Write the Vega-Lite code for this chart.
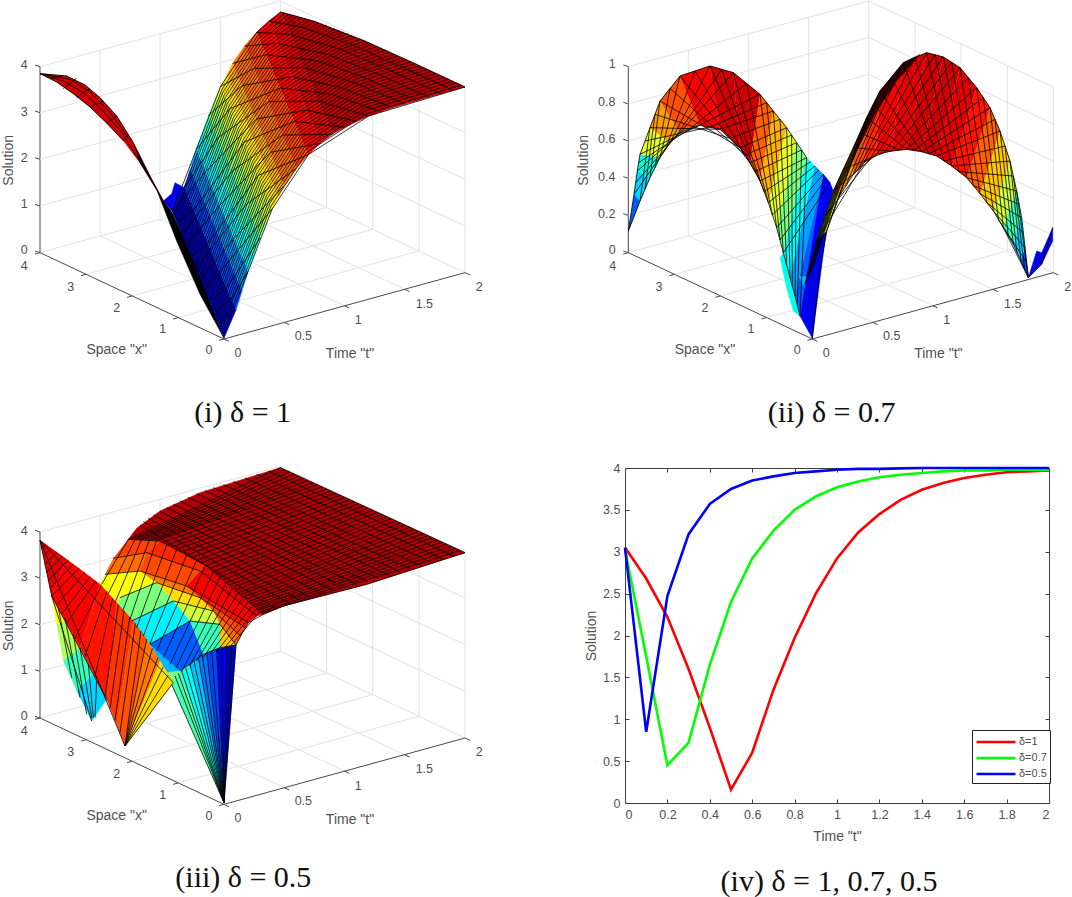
{"$schema":"https://vega.github.io/schema/vega-lite/v6.json","padding":0,"background":"white","config":{"view":{"stroke":null},"text":{"font":"Liberation Sans"}},
"datasets":{
"box":[{"k":"g","h":300,"v":705,"c":300,"d":147},{"k":"g","h":480,"v":655,"c":480,"d":97},{"k":"g","h":661,"v":605,"c":661,"d":47},{"k":"g","h":120,"v":197,"c":841,"d":0},{"k":"g","h":980,"v":620,"c":980,"d":62},{"k":"g","h":1118,"v":685,"c":1118,"d":127},{"k":"g","h":1257,"v":750,"c":1257,"d":192},{"k":"g","h":841,"v":555,"c":841,"d":0},{"k":"g","h":1395,"v":815,"c":1395,"d":258},{"k":"g","h":841,"v":0,"c":1395,"d":258},{"k":"g","h":120,"v":755,"c":841,"d":555},{"k":"g","h":841,"v":555,"c":1395,"d":815},{"k":"g","h":853,"v":964,"c":300,"d":705},{"k":"g","h":1033,"v":914,"c":480,"d":655},{"k":"g","h":1214,"v":865,"c":661,"d":605},{"k":"g","h":258,"v":820,"c":980,"d":620},{"k":"g","h":396,"v":885,"c":1118,"d":685},{"k":"g","h":534,"v":950,"c":1257,"d":750},{"k":"a","h":120,"v":755,"c":672,"d":1014},{"k":"a","h":672,"v":1014,"c":1395,"d":815},{"k":"a","h":120,"v":755,"c":120,"d":197},{"k":"a","h":105,"v":192,"c":120,"d":197},{"k":"a","h":105,"v":750,"c":120,"d":755},{"k":"a","h":258,"v":820,"c":243,"d":824},{"k":"a","h":396,"v":885,"c":381,"d":889},{"k":"a","h":534,"v":950,"c":519,"d":954},{"k":"a","h":672,"v":1014,"c":657,"d":1018},{"k":"a","h":120,"v":755,"c":105,"d":759},{"k":"a","h":672,"v":1014,"c":687,"d":1021},{"k":"a","h":853,"v":964,"c":868,"d":971},{"k":"a","h":1033,"v":914,"c":1048,"d":921},{"k":"a","h":1214,"v":865,"c":1229,"d":872},{"k":"a","h":1395,"v":815,"c":1410,"d":822}],
"h4":[{"k":"g","h":120,"v":615,"c":841,"d":415},{"k":"g","h":120,"v":475,"c":841,"d":275},{"k":"g","h":120,"v":335,"c":841,"d":135},{"k":"g","h":841,"v":415,"c":1395,"d":675},{"k":"g","h":841,"v":275,"c":1395,"d":535},{"k":"g","h":841,"v":135,"c":1395,"d":395},{"k":"a","h":105,"v":610,"c":120,"d":615},{"k":"a","h":105,"v":470,"c":120,"d":475},{"k":"a","h":105,"v":330,"c":120,"d":335}],
"h5":[{"k":"g","h":120,"v":643,"c":841,"d":443},{"k":"g","h":120,"v":532,"c":841,"d":332},{"k":"g","h":120,"v":420,"c":841,"d":220},{"k":"g","h":120,"v":309,"c":841,"d":109},{"k":"g","h":841,"v":443,"c":1395,"d":703},{"k":"g","h":841,"v":332,"c":1395,"d":592},{"k":"g","h":841,"v":220,"c":1395,"d":480},{"k":"g","h":841,"v":109,"c":1395,"d":369},{"k":"a","h":105,"v":638,"c":120,"d":643},{"k":"a","h":105,"v":527,"c":120,"d":532},{"k":"a","h":105,"v":415,"c":120,"d":420},{"k":"a","h":105,"v":304,"c":120,"d":309}],
"lc":[{"s":"4","h":73,"v":795},{"s":"3","h":212,"v":857},{"s":"2","h":350,"v":922},{"s":"1","h":488,"v":985},{"s":"0","h":627,"v":1048},{"s":"0","h":714,"v":1055},{"s":"0.5","h":910,"v":1005},{"s":"1","h":1075,"v":958},{"s":"1.5","h":1273,"v":908},{"s":"2","h":1438,"v":858}],
"l4":[{"s":"4","h":73,"v":193},{"s":"3","h":73,"v":332},{"s":"2","h":73,"v":472},{"s":"1","h":73,"v":610},{"s":"0","h":73,"v":748}],
"l5":[{"s":"1","h":72,"v":190},{"s":"0.8","h":55,"v":303},{"s":"0.6","h":55,"v":415},{"s":"0.4","h":55,"v":527},{"s":"0.2","h":55,"v":638},{"s":"0","h":72,"v":748}],
"tt":[{"s":"Space \"x\"","h":350,"v":1048},{"s":"Time \"t\"","h":1050,"v":1060}],
"p1":[
{"i":1,"u":0.07,"h":672,"v":1012},{"i":1,"u":0.07,"h":708,"v":927},{"i":1,"u":0.07,"h":553,"v":560},{"i":1,"u":0.07,"h":517,"v":633},
{"i":2,"u":0.17,"h":708,"v":927},{"i":2,"u":0.17,"h":726,"v":870},{"i":2,"u":0.17,"h":571,"v":503},{"i":2,"u":0.17,"h":553,"v":560},
{"i":3,"u":0.27,"h":726,"v":870},{"i":3,"u":0.27,"h":744,"v":812},{"i":3,"u":0.27,"h":589,"v":445},{"i":3,"u":0.27,"h":571,"v":503},
{"i":4,"u":0.37,"h":744,"v":812},{"i":4,"u":0.37,"h":762,"v":762},{"i":4,"u":0.37,"h":607,"v":395},{"i":4,"u":0.37,"h":589,"v":445},
{"i":5,"u":0.45,"h":762,"v":762},{"i":5,"u":0.45,"h":780,"v":711},{"i":5,"u":0.45,"h":625,"v":344},{"i":5,"u":0.45,"h":607,"v":395},
{"i":6,"u":0.52,"h":780,"v":711},{"i":6,"u":0.52,"h":798,"v":667},{"i":6,"u":0.52,"h":643,"v":300},{"i":6,"u":0.52,"h":625,"v":344},
{"i":7,"u":0.59,"h":798,"v":667},{"i":7,"u":0.59,"h":817,"v":623},{"i":7,"u":0.59,"h":662,"v":256},{"i":7,"u":0.59,"h":643,"v":300},
{"i":8,"u":0.65,"h":817,"v":623},{"i":8,"u":0.65,"h":835,"v":589},{"i":8,"u":0.65,"h":680,"v":222},{"i":8,"u":0.65,"h":662,"v":256},
{"i":9,"u":0.7,"h":835,"v":589},{"i":9,"u":0.7,"h":853,"v":554},{"i":9,"u":0.7,"h":698,"v":187},{"i":9,"u":0.7,"h":680,"v":222},
{"i":10,"u":0.77,"h":853,"v":554},{"i":10,"u":0.77,"h":889,"v":502},{"i":10,"u":0.77,"h":734,"v":135},{"i":10,"u":0.77,"h":698,"v":187},
{"i":11,"u":0.83,"h":889,"v":502},{"i":11,"u":0.83,"h":925,"v":461},{"i":11,"u":0.83,"h":770,"v":94},{"i":11,"u":0.83,"h":734,"v":135},
{"i":12,"u":0.88,"h":925,"v":461},{"i":12,"u":0.88,"h":961,"v":427},{"i":12,"u":0.88,"h":806,"v":60},{"i":12,"u":0.88,"h":770,"v":94},
{"i":13,"u":0.91,"h":961,"v":427},{"i":13,"u":0.91,"h":997,"v":400},{"i":13,"u":0.91,"h":842,"v":33},{"i":13,"u":0.91,"h":806,"v":60},
{"i":14,"u":0.94,"h":842,"v":33},{"i":14,"u":0.94,"h":943,"v":61},{"i":14,"u":0.94,"h":1094,"v":120},{"i":14,"u":0.94,"h":1245,"v":188},{"i":14,"u":0.94,"h":1395,"v":258},{"i":14,"u":0.94,"h":1323,"v":278},{"i":14,"u":0.94,"h":1250,"v":299},{"i":14,"u":0.94,"h":1178,"v":320},{"i":14,"u":0.94,"h":1106,"v":345},{"i":14,"u":0.94,"h":1034,"v":379},{"i":14,"u":0.94,"h":997,"v":400},
{"i":15,"u":0.1,"h":490,"v":600},{"i":15,"u":0.1,"h":515,"v":578},{"i":15,"u":0.1,"h":525,"v":545},{"i":15,"u":0.1,"h":553,"v":560},{"i":15,"u":0.1,"h":517,"v":633},
{"i":16,"u":0.92,"h":120,"v":218},{"i":16,"u":0.92,"h":200,"v":225},{"i":16,"u":0.92,"h":255,"v":252},{"i":16,"u":0.92,"h":300,"v":290},{"i":16,"u":0.92,"h":350,"v":345},{"i":16,"u":0.92,"h":400,"v":425},{"i":16,"u":0.92,"h":450,"v":525},{"i":16,"u":0.92,"h":490,"v":600},{"i":16,"u":0.92,"h":517,"v":640},{"i":16,"u":0.92,"h":421,"v":487},{"i":16,"u":0.92,"h":371,"v":420},{"i":16,"u":0.92,"h":320,"v":366},{"i":16,"u":0.92,"h":270,"v":318},{"i":16,"u":0.92,"h":220,"v":278},{"i":16,"u":0.92,"h":170,"v":243}],
"b1":[{"i":1,"h":400,"v":425},{"i":1,"h":450,"v":525},{"i":1,"h":490,"v":600},{"i":1,"h":517,"v":636},{"i":1,"h":578,"v":775},{"i":1,"h":672,"v":1012},{"i":1,"h":600,"v":880},{"i":1,"h":530,"v":720},{"i":1,"h":471,"v":569},{"i":1,"h":421,"v":487}],
"m1":[
{"i":1,"h":1395,"v":258},{"i":1,"h":1245,"v":188},{"i":1,"h":1094,"v":120},{"i":1,"h":943,"v":61},{"i":1,"h":842,"v":33},
{"i":2,"h":1359,"v":268},{"i":2,"h":1208,"v":199},{"i":2,"h":1058,"v":132},{"i":2,"h":907,"v":79},{"i":2,"h":806,"v":60},
{"i":3,"h":1323,"v":278},{"i":3,"h":1172,"v":209},{"i":3,"h":1022,"v":145},{"i":3,"h":870,"v":100},{"i":3,"h":770,"v":94},
{"i":4,"h":1287,"v":288},{"i":4,"h":1136,"v":220},{"i":4,"h":986,"v":161},{"i":4,"h":834,"v":127},{"i":4,"h":734,"v":135},
{"i":5,"h":1250,"v":299},{"i":5,"h":1100,"v":232},{"i":5,"h":950,"v":179},{"i":5,"h":798,"v":161},{"i":5,"h":698,"v":187},
{"i":6,"h":1214,"v":309},{"i":6,"h":1064,"v":245},{"i":6,"h":913,"v":200},{"i":6,"h":762,"v":202},{"i":6,"h":662,"v":256},
{"i":7,"h":1178,"v":320},{"i":7,"h":1028,"v":261},{"i":7,"h":877,"v":227},{"i":7,"h":726,"v":254},{"i":7,"h":625,"v":344},
{"i":8,"h":1142,"v":332},{"i":8,"h":992,"v":279},{"i":8,"h":841,"v":261},{"i":8,"h":690,"v":323},{"i":8,"h":589,"v":445},
{"i":9,"h":1106,"v":345},{"i":9,"h":955,"v":300},{"i":9,"h":805,"v":302},{"i":9,"h":653,"v":411},{"i":9,"h":553,"v":560},
{"i":10,"h":1070,"v":361},{"i":10,"h":919,"v":327},{"i":10,"h":769,"v":354},{"i":10,"h":617,"v":512},{"i":10,"h":517,"v":633},
{"i":11,"h":1034,"v":379},{"i":11,"h":883,"v":361},{"i":11,"h":733,"v":423},{"i":11,"h":581,"v":627},{"i":11,"h":531,"v":666},
{"i":12,"h":997,"v":400},{"i":12,"h":847,"v":402},{"i":12,"h":696,"v":511},{"i":12,"h":545,"v":700},
{"i":13,"h":961,"v":427},{"i":13,"h":811,"v":454},{"i":13,"h":660,"v":612},{"i":13,"h":559,"v":733},
{"i":14,"h":925,"v":461},{"i":14,"h":775,"v":523},{"i":14,"h":624,"v":727},{"i":14,"h":573,"v":766},
{"i":15,"h":889,"v":502},{"i":15,"h":738,"v":611},{"i":15,"h":588,"v":800},
{"i":16,"h":853,"v":554},{"i":16,"h":702,"v":712},{"i":16,"h":602,"v":833},
{"i":17,"h":817,"v":623},{"i":17,"h":716,"v":745},{"i":17,"h":616,"v":866},
{"i":18,"h":780,"v":711},{"i":18,"h":680,"v":860},{"i":18,"h":630,"v":900},
{"i":19,"h":744,"v":812},{"i":19,"h":694,"v":894},{"i":19,"h":644,"v":933},
{"i":20,"h":708,"v":927},{"i":20,"h":658,"v":967},
{"i":21,"h":672,"v":1000},{"i":21,"h":744,"v":812},{"i":21,"h":817,"v":623},{"i":21,"h":925,"v":461},{"i":21,"h":1106,"v":345},{"i":21,"h":1395,"v":258},
{"i":22,"h":665,"v":983},{"i":22,"h":737,"v":795},{"i":22,"h":810,"v":606},{"i":22,"h":918,"v":444},{"i":22,"h":1099,"v":328},{"i":22,"h":1370,"v":246},
{"i":23,"h":658,"v":967},{"i":23,"h":730,"v":779},{"i":23,"h":803,"v":590},{"i":23,"h":911,"v":428},{"i":23,"h":1092,"v":312},{"i":23,"h":1345,"v":235},
{"i":24,"h":651,"v":950},{"i":24,"h":723,"v":762},{"i":24,"h":796,"v":573},{"i":24,"h":904,"v":411},{"i":24,"h":1085,"v":295},{"i":24,"h":1320,"v":223},
{"i":25,"h":644,"v":933},{"i":25,"h":716,"v":745},{"i":25,"h":789,"v":556},{"i":25,"h":897,"v":394},{"i":25,"h":1078,"v":278},{"i":25,"h":1295,"v":211},
{"i":26,"h":637,"v":917},{"i":26,"h":709,"v":729},{"i":26,"h":782,"v":540},{"i":26,"h":890,"v":378},{"i":26,"h":1071,"v":262},{"i":26,"h":1270,"v":200},
{"i":27,"h":630,"v":900},{"i":27,"h":702,"v":712},{"i":27,"h":775,"v":523},{"i":27,"h":883,"v":361},{"i":27,"h":1064,"v":245},{"i":27,"h":1245,"v":188},
{"i":28,"h":623,"v":883},{"i":28,"h":695,"v":695},{"i":28,"h":768,"v":506},{"i":28,"h":876,"v":344},{"i":28,"h":1057,"v":228},{"i":28,"h":1219,"v":177},
{"i":29,"h":616,"v":866},{"i":29,"h":688,"v":678},{"i":29,"h":761,"v":489},{"i":29,"h":869,"v":327},{"i":29,"h":1050,"v":211},{"i":29,"h":1194,"v":165},
{"i":30,"h":609,"v":850},{"i":30,"h":681,"v":662},{"i":30,"h":754,"v":473},{"i":30,"h":862,"v":311},{"i":30,"h":1043,"v":195},{"i":30,"h":1169,"v":154},
{"i":31,"h":602,"v":833},{"i":31,"h":674,"v":645},{"i":31,"h":747,"v":456},{"i":31,"h":855,"v":294},{"i":31,"h":1036,"v":178},{"i":31,"h":1144,"v":142},
{"i":32,"h":595,"v":816},{"i":32,"h":667,"v":628},{"i":32,"h":740,"v":439},{"i":32,"h":848,"v":277},{"i":32,"h":1029,"v":161},{"i":32,"h":1119,"v":130},
{"i":33,"h":588,"v":800},{"i":33,"h":660,"v":612},{"i":33,"h":733,"v":423},{"i":33,"h":841,"v":261},{"i":33,"h":1022,"v":145},{"i":33,"h":1094,"v":120},
{"i":34,"h":580,"v":783},{"i":34,"h":652,"v":595},{"i":34,"h":725,"v":406},{"i":34,"h":833,"v":244},{"i":34,"h":1014,"v":128},{"i":34,"h":1068,"v":109},
{"i":35,"h":573,"v":766},{"i":35,"h":645,"v":578},{"i":35,"h":718,"v":389},{"i":35,"h":826,"v":227},{"i":35,"h":1007,"v":111},{"i":35,"h":1043,"v":98},
{"i":36,"h":566,"v":750},{"i":36,"h":638,"v":562},{"i":36,"h":711,"v":373},{"i":36,"h":819,"v":211},{"i":36,"h":1000,"v":95},{"i":36,"h":1018,"v":89},
{"i":37,"h":559,"v":733},{"i":37,"h":631,"v":545},{"i":37,"h":704,"v":356},{"i":37,"h":812,"v":194},{"i":37,"h":993,"v":78},
{"i":38,"h":552,"v":716},{"i":38,"h":624,"v":528},{"i":38,"h":697,"v":339},{"i":38,"h":805,"v":177},{"i":38,"h":968,"v":69},
{"i":39,"h":545,"v":700},{"i":39,"h":617,"v":512},{"i":39,"h":690,"v":323},{"i":39,"h":798,"v":161},{"i":39,"h":943,"v":61},
{"i":40,"h":538,"v":683},{"i":40,"h":610,"v":495},{"i":40,"h":683,"v":306},{"i":40,"h":791,"v":144},{"i":40,"h":918,"v":53},
{"i":41,"h":531,"v":666},{"i":41,"h":603,"v":478},{"i":41,"h":676,"v":289},{"i":41,"h":784,"v":127},{"i":41,"h":893,"v":45},
{"i":42,"h":524,"v":650},{"i":42,"h":596,"v":462},{"i":42,"h":669,"v":273},{"i":42,"h":777,"v":111},{"i":42,"h":868,"v":39},
{"i":43,"h":517,"v":633},{"i":43,"h":589,"v":445},{"i":43,"h":662,"v":256},{"i":43,"h":770,"v":94},{"i":43,"h":842,"v":33},
{"i":44,"h":120,"v":218},{"i":44,"h":190,"v":240},{"i":44,"h":250,"v":275},{"i":44,"h":310,"v":330},{"i":44,"h":370,"v":400},{"i":44,"h":430,"v":500},
{"i":45,"h":120,"v":218},{"i":45,"h":210,"v":235},{"i":45,"h":270,"v":272},{"i":45,"h":330,"v":335},{"i":45,"h":385,"v":410},
{"i":46,"h":150,"v":232},{"i":46,"h":190,"v":223},{"i":47,"h":190,"v":263},{"i":47,"h":230,"v":232},{"i":48,"h":230,"v":290},{"i":48,"h":270,"v":262},{"i":49,"h":270,"v":318},{"i":49,"h":310,"v":300},{"i":50,"h":320,"v":366},{"i":50,"h":350,"v":345},{"i":51,"h":371,"v":420},{"i":51,"h":385,"v":400},
{"i":52,"h":120,"v":218},{"i":52,"h":200,"v":225},{"i":52,"h":255,"v":252},{"i":52,"h":300,"v":290},{"i":52,"h":350,"v":345},{"i":52,"h":400,"v":425},
{"i":53,"h":120,"v":218},{"i":53,"h":170,"v":243},{"i":53,"h":220,"v":278},{"i":53,"h":270,"v":318},{"i":53,"h":320,"v":366},{"i":53,"h":371,"v":420},
{"i":54,"h":669,"v":992},{"i":54,"h":741,"v":804},{"i":54,"h":813,"v":615},{"i":54,"h":922,"v":453},{"i":54,"h":1102,"v":337},{"i":54,"h":1383,"v":252},
{"i":55,"h":662,"v":975},{"i":55,"h":734,"v":787},{"i":55,"h":807,"v":598},{"i":55,"h":915,"v":436},{"i":55,"h":1096,"v":320},{"i":55,"h":1358,"v":241},
{"i":56,"h":655,"v":959},{"i":56,"h":727,"v":771},{"i":56,"h":800,"v":582},{"i":56,"h":908,"v":420},{"i":56,"h":1089,"v":304},{"i":56,"h":1333,"v":229},
{"i":57,"h":648,"v":942},{"i":57,"h":720,"v":754},{"i":57,"h":793,"v":565},{"i":57,"h":901,"v":403},{"i":57,"h":1082,"v":287},{"i":57,"h":1308,"v":217},
{"i":58,"h":641,"v":925},{"i":58,"h":713,"v":737},{"i":58,"h":786,"v":548},{"i":58,"h":894,"v":386},{"i":58,"h":1075,"v":270},{"i":58,"h":1283,"v":205},
{"i":59,"h":634,"v":909},{"i":59,"h":706,"v":721},{"i":59,"h":779,"v":532},{"i":59,"h":887,"v":370},{"i":59,"h":1068,"v":254},{"i":59,"h":1258,"v":194},
{"i":60,"h":627,"v":892},{"i":60,"h":699,"v":704},{"i":60,"h":772,"v":515},{"i":60,"h":880,"v":353},{"i":60,"h":1061,"v":237},{"i":60,"h":1233,"v":182},
{"i":61,"h":620,"v":875},{"i":61,"h":692,"v":687},{"i":61,"h":765,"v":498},{"i":61,"h":873,"v":336},{"i":61,"h":1054,"v":220},{"i":61,"h":1207,"v":171},
{"i":62,"h":613,"v":858},{"i":62,"h":685,"v":670},{"i":62,"h":758,"v":481},{"i":62,"h":866,"v":319},{"i":62,"h":1047,"v":203},{"i":62,"h":1182,"v":160},
{"i":63,"h":606,"v":842},{"i":63,"h":678,"v":654},{"i":63,"h":751,"v":465},{"i":63,"h":859,"v":303},{"i":63,"h":1040,"v":187},{"i":63,"h":1157,"v":148},
{"i":64,"h":599,"v":825},{"i":64,"h":671,"v":637},{"i":64,"h":744,"v":448},{"i":64,"h":852,"v":286},{"i":64,"h":1033,"v":170},{"i":64,"h":1132,"v":136},
{"i":65,"h":592,"v":808},{"i":65,"h":664,"v":620},{"i":65,"h":737,"v":431},{"i":65,"h":845,"v":269},{"i":65,"h":1026,"v":153},{"i":65,"h":1107,"v":125},
{"i":66,"h":585,"v":792},{"i":66,"h":657,"v":604},{"i":66,"h":730,"v":415},{"i":66,"h":838,"v":253},{"i":66,"h":1018,"v":137},{"i":66,"h":1081,"v":115},
{"i":67,"h":577,"v":775},{"i":67,"h":649,"v":587},{"i":67,"h":722,"v":398},{"i":67,"h":830,"v":236},{"i":67,"h":1011,"v":120},{"i":67,"h":1056,"v":104},
{"i":68,"h":570,"v":758},{"i":68,"h":642,"v":570},{"i":68,"h":715,"v":381},{"i":68,"h":823,"v":219},{"i":68,"h":1004,"v":103},{"i":68,"h":1031,"v":93},
{"i":69,"h":563,"v":742},{"i":69,"h":635,"v":554},{"i":69,"h":708,"v":365},{"i":69,"h":816,"v":203},{"i":69,"h":1005,"v":83},
{"i":70,"h":556,"v":725},{"i":70,"h":628,"v":537},{"i":70,"h":701,"v":348},{"i":70,"h":809,"v":186},{"i":70,"h":980,"v":73},
{"i":71,"h":549,"v":708},{"i":71,"h":621,"v":520},{"i":71,"h":694,"v":331},{"i":71,"h":802,"v":169},{"i":71,"h":955,"v":65},
{"i":72,"h":542,"v":692},{"i":72,"h":614,"v":504},{"i":72,"h":687,"v":315},{"i":72,"h":795,"v":153},{"i":72,"h":930,"v":57},
{"i":73,"h":535,"v":675},{"i":73,"h":607,"v":487},{"i":73,"h":680,"v":298},{"i":73,"h":788,"v":136},{"i":73,"h":905,"v":49},
{"i":74,"h":528,"v":658},{"i":74,"h":600,"v":470},{"i":74,"h":673,"v":281},{"i":74,"h":781,"v":119},{"i":74,"h":880,"v":42},
{"i":75,"h":521,"v":642},{"i":75,"h":593,"v":454},{"i":75,"h":666,"v":265},{"i":75,"h":774,"v":103},{"i":75,"h":855,"v":36}],
"p2":[
{"i":1,"u":0.2,"h":205,"v":690},{"i":1,"u":0.2,"h":240,"v":600},{"i":1,"u":0.2,"h":222,"v":580},
{"i":2,"u":0.33,"h":240,"v":600},{"i":2,"u":0.33,"h":270,"v":530},{"i":2,"u":0.33,"h":232,"v":510},{"i":2,"u":0.33,"h":222,"v":580},
{"i":3,"u":0.42,"h":270,"v":530},{"i":3,"u":0.42,"h":300,"v":470},{"i":3,"u":0.42,"h":240,"v":460},{"i":3,"u":0.42,"h":232,"v":510},
{"i":4,"u":0.6,"h":300,"v":470},{"i":4,"u":0.6,"h":330,"v":425},{"i":4,"u":0.6,"h":270,"v":380},{"i":4,"u":0.6,"h":240,"v":460},
{"i":5,"u":0.72,"h":330,"v":425},{"i":5,"u":0.72,"h":360,"v":395},{"i":5,"u":0.72,"h":300,"v":300},{"i":5,"u":0.72,"h":270,"v":380},
{"i":6,"u":0.82,"h":360,"v":395},{"i":6,"u":0.82,"h":420,"v":372},{"i":6,"u":0.82,"h":360,"v":225},{"i":6,"u":0.82,"h":300,"v":300},
{"i":7,"u":0.88,"h":420,"v":372},{"i":7,"u":0.88,"h":480,"v":385},{"i":7,"u":0.88,"h":450,"v":195},{"i":7,"u":0.88,"h":360,"v":225},
{"i":8,"u":0.92,"h":480,"v":385},{"i":8,"u":0.92,"h":540,"v":440},{"i":8,"u":0.92,"h":520,"v":215},{"i":8,"u":0.92,"h":450,"v":195},
{"i":9,"u":0.92,"h":540,"v":440},{"i":9,"u":0.92,"h":570,"v":485},{"i":9,"u":0.92,"h":600,"v":280},{"i":9,"u":0.92,"h":520,"v":215},
{"i":10,"u":0.8,"h":570,"v":485},{"i":10,"u":0.8,"h":600,"v":540},{"i":10,"u":0.8,"h":640,"v":330},{"i":10,"u":0.8,"h":600,"v":280},
{"i":11,"u":0.7,"h":600,"v":540},{"i":11,"u":0.7,"h":625,"v":605},{"i":11,"u":0.7,"h":680,"v":380},{"i":11,"u":0.7,"h":640,"v":330},
{"i":12,"u":0.6,"h":625,"v":605},{"i":12,"u":0.6,"h":650,"v":680},{"i":12,"u":0.6,"h":710,"v":425},{"i":12,"u":0.6,"h":680,"v":380},
{"i":13,"u":0.5,"h":650,"v":680},{"i":13,"u":0.5,"h":670,"v":755},{"i":13,"u":0.5,"h":740,"v":470},{"i":13,"u":0.5,"h":710,"v":425},
{"i":14,"u":0.38,"h":670,"v":755},{"i":14,"u":0.38,"h":690,"v":830},{"i":14,"u":0.38,"h":765,"v":495},{"i":14,"u":0.38,"h":740,"v":470},
{"i":15,"u":0.28,"h":690,"v":830},{"i":15,"u":0.28,"h":705,"v":885},{"i":15,"u":0.28,"h":790,"v":520},{"i":15,"u":0.28,"h":765,"v":495},
{"i":16,"u":0.2,"h":705,"v":885},{"i":16,"u":0.2,"h":720,"v":945},{"i":16,"u":0.2,"h":810,"v":545},{"i":16,"u":0.2,"h":790,"v":520},
{"i":17,"u":0.4,"h":670,"v":755},{"i":17,"u":0.4,"h":690,"v":830},{"i":17,"u":0.4,"h":720,"v":945},{"i":17,"u":0.4,"h":700,"v":930},{"i":17,"u":0.4,"h":680,"v":860},{"i":17,"u":0.4,"h":660,"v":770},
{"i":18,"u":0.12,"h":790,"v":520},{"i":18,"u":0.12,"h":810,"v":545},{"i":18,"u":0.12,"h":820,"v":570},{"i":18,"u":0.12,"h":800,"v":680},{"i":18,"u":0.12,"h":757,"v":1012},{"i":18,"u":0.12,"h":720,"v":945},
{"i":19,"u":0.3,"h":715,"v":825},{"i":19,"u":0.3,"h":770,"v":830},{"i":19,"u":0.3,"h":745,"v":880},
{"i":20,"u":0.1,"h":757,"v":1012},{"i":20,"u":0.1,"h":735,"v":850},{"i":20,"u":0.1,"h":770,"v":720},{"i":20,"u":0.1,"h":800,"v":690},{"i":20,"u":0.1,"h":780,"v":800},
{"i":21,"u":0.6,"h":800,"v":690},{"i":21,"u":0.6,"h":835,"v":590},{"i":21,"u":0.6,"h":820,"v":570},{"i":21,"u":0.6,"h":770,"v":720},
{"i":22,"u":0.72,"h":835,"v":590},{"i":22,"u":0.72,"h":880,"v":520},{"i":22,"u":0.72,"h":880,"v":440},{"i":22,"u":0.72,"h":820,"v":570},
{"i":23,"u":0.82,"h":880,"v":520},{"i":23,"u":0.82,"h":912,"v":485},{"i":23,"u":0.82,"h":920,"v":350},{"i":23,"u":0.82,"h":880,"v":440},
{"i":24,"u":0.86,"h":912,"v":485},{"i":24,"u":0.86,"h":950,"v":460},{"i":24,"u":0.86,"h":960,"v":270},{"i":24,"u":0.86,"h":920,"v":350},
{"i":25,"u":0.88,"h":950,"v":460},{"i":25,"u":0.88,"h":995,"v":450},{"i":25,"u":0.88,"h":1030,"v":185},{"i":25,"u":0.88,"h":960,"v":270},
{"i":26,"u":0.9,"h":995,"v":450},{"i":26,"u":0.9,"h":1040,"v":445},{"i":26,"u":0.9,"h":1100,"v":155},{"i":26,"u":0.9,"h":1030,"v":185},
{"i":27,"u":0.92,"h":1040,"v":445},{"i":27,"u":0.92,"h":1085,"v":452},{"i":27,"u":0.92,"h":1150,"v":168},{"i":27,"u":0.92,"h":1100,"v":155},
{"i":28,"u":0.92,"h":1085,"v":452},{"i":28,"u":0.92,"h":1130,"v":465},{"i":28,"u":0.92,"h":1200,"v":200},{"i":28,"u":0.92,"h":1150,"v":168},
{"i":29,"u":0.9,"h":1130,"v":465},{"i":29,"u":0.9,"h":1175,"v":495},{"i":29,"u":0.9,"h":1250,"v":260},{"i":29,"u":0.9,"h":1200,"v":200},
{"i":30,"u":0.87,"h":1175,"v":495},{"i":30,"u":0.87,"h":1220,"v":530},{"i":30,"u":0.87,"h":1290,"v":320},{"i":30,"u":0.87,"h":1250,"v":260},
{"i":31,"u":0.8,"h":1220,"v":530},{"i":31,"u":0.8,"h":1260,"v":578},{"i":31,"u":0.8,"h":1320,"v":390},{"i":31,"u":0.8,"h":1290,"v":320},
{"i":32,"u":0.68,"h":1260,"v":578},{"i":32,"u":0.68,"h":1300,"v":630},{"i":32,"u":0.68,"h":1350,"v":480},{"i":32,"u":0.68,"h":1320,"v":390},
{"i":33,"u":0.58,"h":1300,"v":630},{"i":33,"u":0.58,"h":1330,"v":680},{"i":33,"u":0.58,"h":1370,"v":570},{"i":33,"u":0.58,"h":1350,"v":480},
{"i":34,"u":0.45,"h":1330,"v":680},{"i":34,"u":0.45,"h":1360,"v":730},{"i":34,"u":0.45,"h":1385,"v":650},{"i":34,"u":0.45,"h":1370,"v":570},
{"i":35,"u":0.33,"h":1360,"v":730},{"i":35,"u":0.33,"h":1383,"v":780},{"i":35,"u":0.33,"h":1395,"v":740},{"i":35,"u":0.33,"h":1385,"v":650},
{"i":36,"u":0.18,"h":1383,"v":780},{"i":36,"u":0.18,"h":1405,"v":830},{"i":36,"u":0.18,"h":1395,"v":740},
{"i":37,"u":0.1,"h":1405,"v":830},{"i":37,"u":0.1,"h":1430,"v":750},{"i":37,"u":0.1,"h":1445,"v":755},{"i":37,"u":0.1,"h":1478,"v":680},{"i":37,"u":0.1,"h":1478,"v":720},{"i":37,"u":0.1,"h":1445,"v":790}],
"b2":[{"i":1,"h":735,"v":850},{"i":1,"h":770,"v":720},{"i":1,"h":820,"v":570},{"i":1,"h":880,"v":440},{"i":1,"h":920,"v":350},{"i":1,"h":960,"v":270},{"i":1,"h":1030,"v":185},{"i":1,"h":1080,"v":160},{"i":1,"h":1010,"v":240},{"i":1,"h":950,"v":330},{"i":1,"h":890,"v":450},{"i":1,"h":840,"v":560},{"i":1,"h":795,"v":690},{"i":1,"h":760,"v":800}],
"m2":[
{"i":1,"h":205,"v":690},{"i":1,"h":222,"v":580},{"i":1,"h":232,"v":510},{"i":1,"h":240,"v":460},{"i":1,"h":270,"v":380},{"i":1,"h":300,"v":300},{"i":1,"h":360,"v":225},{"i":1,"h":450,"v":195},{"i":1,"h":520,"v":215},{"i":1,"h":600,"v":280},{"i":1,"h":640,"v":330},{"i":1,"h":680,"v":380},{"i":1,"h":710,"v":425},{"i":1,"h":740,"v":470},
{"i":2,"h":205,"v":690},{"i":2,"h":240,"v":600},{"i":2,"h":270,"v":530},{"i":2,"h":300,"v":470},{"i":2,"h":330,"v":425},{"i":2,"h":360,"v":395},{"i":2,"h":420,"v":372},{"i":2,"h":480,"v":385},{"i":2,"h":540,"v":440},{"i":2,"h":570,"v":485},{"i":2,"h":600,"v":540},{"i":2,"h":625,"v":605},{"i":2,"h":650,"v":680},{"i":2,"h":670,"v":755},{"i":2,"h":690,"v":830},{"i":2,"h":705,"v":885},{"i":2,"h":720,"v":945},
{"i":3,"h":757,"v":1012},{"i":3,"h":780,"v":800},{"i":3,"h":800,"v":690},{"i":3,"h":835,"v":590},{"i":3,"h":880,"v":520},{"i":3,"h":912,"v":485},{"i":3,"h":950,"v":460},{"i":3,"h":995,"v":450},{"i":3,"h":1040,"v":445},{"i":3,"h":1085,"v":452},{"i":3,"h":1130,"v":465},{"i":3,"h":1175,"v":495},{"i":3,"h":1220,"v":530},{"i":3,"h":1260,"v":578},{"i":3,"h":1300,"v":630},{"i":3,"h":1330,"v":680},{"i":3,"h":1360,"v":730},{"i":3,"h":1383,"v":780},{"i":3,"h":1405,"v":830},
{"i":4,"h":735,"v":850},{"i":4,"h":770,"v":720},{"i":4,"h":820,"v":570},{"i":4,"h":880,"v":440},{"i":4,"h":920,"v":350},{"i":4,"h":960,"v":270},{"i":4,"h":1030,"v":185},{"i":4,"h":1100,"v":155},{"i":4,"h":1150,"v":168},{"i":4,"h":1200,"v":200},{"i":4,"h":1250,"v":260},{"i":4,"h":1290,"v":320},{"i":4,"h":1320,"v":390},{"i":4,"h":1350,"v":480},{"i":4,"h":1370,"v":570},{"i":4,"h":1385,"v":650},{"i":4,"h":1395,"v":740},{"i":4,"h":1405,"v":830},
{"i":5,"h":1405,"v":830},{"i":5,"h":1445,"v":790},{"i":5,"h":1478,"v":680}],
"r2":[{"h":800,"v":690,"c":920,"d":350},{"h":835,"v":590,"c":960,"d":270},{"h":880,"v":520,"c":1030,"d":185},{"h":912,"v":485,"c":1100,"d":155},{"h":950,"v":460,"c":1150,"d":168},{"h":995,"v":450,"c":1200,"d":200},{"h":1040,"v":445,"c":1250,"d":260},{"h":1085,"v":452,"c":1290,"d":320},{"h":1130,"v":465,"c":1320,"d":390},{"h":1175,"v":495,"c":1350,"d":480},{"h":1220,"v":530,"c":1370,"d":570},{"h":1260,"v":578,"c":1385,"d":650},{"h":1300,"v":630,"c":1395,"d":740},{"h":1330,"v":680,"c":1405,"d":830},{"h":770,"v":720,"c":912,"d":485},{"h":820,"v":570,"c":950,"d":460},{"h":880,"v":440,"c":995,"d":450},{"h":920,"v":350,"c":1040,"d":445},{"h":960,"v":270,"c":1085,"d":452},{"h":1030,"v":185,"c":1130,"d":465},{"h":1100,"v":155,"c":1175,"d":495},{"h":1150,"v":168,"c":1220,"d":530},{"h":1200,"v":200,"c":1260,"d":578},{"h":1250,"v":260,"c":1300,"d":630},{"h":1290,"v":320,"c":1330,"d":680},{"h":1320,"v":390,"c":1360,"d":730},{"h":1350,"v":480,"c":1383,"d":780},{"h":1370,"v":570,"c":1405,"d":830},
{"h":817,"v":640,"c":940,"d":310},{"h":857,"v":555,"c":995,"d":228},{"h":896,"v":502,"c":1065,"d":170},{"h":931,"v":472,"c":1125,"d":161},{"h":972,"v":455,"c":1175,"d":184},{"h":1017,"v":447,"c":1225,"d":230},{"h":1062,"v":448,"c":1270,"d":290},{"h":1107,"v":458,"c":1305,"d":355},{"h":1152,"v":480,"c":1335,"d":435},{"h":1197,"v":512,"c":1360,"d":525},{"h":1240,"v":554,"c":1377,"d":610},{"h":1280,"v":604,"c":1390,"d":695},{"h":1315,"v":655,"c":1400,"d":785},
{"h":795,"v":645,"c":931,"d":472},{"h":850,"v":505,"c":972,"d":455},{"h":900,"v":395,"c":1017,"d":447},{"h":940,"v":310,"c":1062,"d":448},{"h":995,"v":228,"c":1107,"d":458},{"h":1065,"v":170,"c":1152,"d":480},{"h":1125,"v":161,"c":1197,"d":512},{"h":1175,"v":184,"c":1240,"d":554},{"h":1225,"v":230,"c":1280,"d":604},{"h":1270,"v":290,"c":1315,"d":655},{"h":1305,"v":355,"c":1345,"d":705},{"h":1335,"v":435,"c":1371,"d":755},{"h":1360,"v":525,"c":1394,"d":805}],
"r2a":[{"h":222,"v":580,"c":330,"d":425},{"h":232,"v":510,"c":360,"d":395},{"h":240,"v":460,"c":420,"d":372},{"h":270,"v":380,"c":480,"d":385},{"h":300,"v":300,"c":540,"d":440},{"h":360,"v":225,"c":570,"d":485},{"h":450,"v":195,"c":600,"d":540},{"h":520,"v":215,"c":625,"d":605},{"h":600,"v":280,"c":650,"d":680},{"h":640,"v":330,"c":670,"d":755},{"h":680,"v":380,"c":690,"d":830},{"h":710,"v":425,"c":705,"d":885},{"h":740,"v":470,"c":720,"d":945},{"h":240,"v":600,"c":270,"d":380},{"h":270,"v":530,"c":300,"d":300},{"h":300,"v":470,"c":360,"d":225},{"h":330,"v":425,"c":450,"d":195},{"h":360,"v":395,"c":520,"d":215},{"h":420,"v":372,"c":600,"d":280},{"h":480,"v":385,"c":640,"d":330},{"h":540,"v":440,"c":680,"d":380},{"h":570,"v":485,"c":710,"d":425},{"h":600,"v":540,"c":740,"d":470},{"h":625,"v":605,"c":765,"d":495},{"h":650,"v":680,"c":790,"d":520},{"h":670,"v":755,"c":810,"d":545},
{"h":227,"v":545,"c":345,"d":410},{"h":236,"v":485,"c":390,"d":383},{"h":255,"v":420,"c":450,"d":378},{"h":285,"v":340,"c":510,"d":412},{"h":330,"v":262,"c":555,"d":462},{"h":405,"v":210,"c":585,"d":512},{"h":485,"v":205,"c":612,"d":572},{"h":560,"v":247,"c":637,"d":642},{"h":620,"v":305,"c":660,"d":717},{"h":660,"v":355,"c":680,"d":792},{"h":695,"v":402,"c":697,"d":857},{"h":725,"v":447,"c":712,"d":915},
{"h":255,"v":565,"c":285,"d":340},{"h":285,"v":500,"c":330,"d":262},{"h":315,"v":447,"c":405,"d":210},{"h":345,"v":410,"c":485,"d":205},{"h":390,"v":383,"c":560,"d":247},{"h":450,"v":378,"c":620,"d":305},{"h":510,"v":412,"c":660,"d":355},{"h":555,"v":462,"c":695,"d":402},{"h":585,"v":512,"c":725,"d":447},{"h":612,"v":572,"c":752,"d":482},{"h":637,"v":642,"c":777,"d":507},{"h":660,"v":717,"c":800,"d":532}],
"p3":[
{"i":0,"u":0.3,"h":440,"v":565},{"i":0,"u":0.3,"h":610,"v":610},{"i":0,"u":0.3,"h":570,"v":650},{"i":0,"u":0.3,"h":520,"v":700},
{"i":1,"u":0.95,"h":385,"v":265},{"i":1,"u":0.95,"h":410,"v":232},{"i":1,"u":0.95,"h":480,"v":180},{"i":1,"u":0.95,"h":600,"v":125},{"i":1,"u":0.95,"h":841,"v":50},{"i":1,"u":0.95,"h":1395,"v":305},{"i":1,"u":0.95,"h":1100,"v":400},{"i":1,"u":0.95,"h":850,"v":465},{"i":1,"u":0.95,"h":790,"v":490},{"i":1,"u":0.95,"h":620,"v":345},{"i":1,"u":0.95,"h":480,"v":270},
{"i":2,"u":0.84,"h":385,"v":265},{"i":2,"u":0.84,"h":480,"v":270},{"i":2,"u":0.84,"h":440,"v":305},{"i":2,"u":0.84,"h":340,"v":322},
{"i":3,"u":0.86,"h":480,"v":270},{"i":3,"u":0.86,"h":620,"v":345},{"i":3,"u":0.86,"h":600,"v":360},{"i":3,"u":0.86,"h":440,"v":305},
{"i":4,"u":0.9,"h":620,"v":345},{"i":4,"u":0.9,"h":790,"v":490},{"i":4,"u":0.9,"h":770,"v":495},{"i":4,"u":0.9,"h":600,"v":360},
{"i":5,"u":0.78,"h":340,"v":322},{"i":5,"u":0.78,"h":440,"v":305},{"i":5,"u":0.78,"h":420,"v":360},{"i":5,"u":0.78,"h":315,"v":370},
{"i":6,"u":0.83,"h":440,"v":305},{"i":6,"u":0.83,"h":600,"v":360},{"i":6,"u":0.83,"h":560,"v":405},{"i":6,"u":0.83,"h":420,"v":360},
{"i":7,"u":0.88,"h":600,"v":360},{"i":7,"u":0.88,"h":770,"v":495},{"i":7,"u":0.88,"h":745,"v":515},{"i":7,"u":0.88,"h":560,"v":405},
{"i":8,"u":0.62,"h":315,"v":370},{"i":8,"u":0.62,"h":420,"v":360},{"i":8,"u":0.62,"h":470,"v":395},{"i":8,"u":0.62,"h":360,"v":440},{"i":8,"u":0.62,"h":350,"v":460},{"i":8,"u":0.62,"h":300,"v":400},
{"i":9,"u":0.76,"h":420,"v":360},{"i":9,"u":0.76,"h":560,"v":405},{"i":9,"u":0.76,"h":600,"v":440},{"i":9,"u":0.76,"h":470,"v":395},
{"i":10,"u":0.87,"h":560,"v":405},{"i":10,"u":0.87,"h":745,"v":515},{"i":10,"u":0.87,"h":735,"v":530},{"i":10,"u":0.87,"h":600,"v":440},
{"i":11,"u":0.5,"h":360,"v":440},{"i":11,"u":0.5,"h":470,"v":395},{"i":11,"u":0.5,"h":520,"v":450},{"i":11,"u":0.5,"h":395,"v":510},{"i":11,"u":0.5,"h":350,"v":455},
{"i":12,"u":0.66,"h":470,"v":395},{"i":12,"u":0.66,"h":600,"v":440},{"i":12,"u":0.66,"h":640,"v":480},{"i":12,"u":0.66,"h":520,"v":450},
{"i":13,"u":0.83,"h":600,"v":440},{"i":13,"u":0.83,"h":735,"v":530},{"i":13,"u":0.83,"h":722,"v":555},{"i":13,"u":0.83,"h":640,"v":480},
{"i":14,"u":0.36,"h":395,"v":510},{"i":14,"u":0.36,"h":520,"v":450},{"i":14,"u":0.36,"h":570,"v":510},{"i":14,"u":0.36,"h":450,"v":580},
{"i":15,"u":0.58,"h":520,"v":450},{"i":15,"u":0.58,"h":640,"v":480},{"i":15,"u":0.58,"h":660,"v":520},{"i":15,"u":0.58,"h":570,"v":510},
{"i":16,"u":0.78,"h":640,"v":480},{"i":16,"u":0.78,"h":722,"v":555},{"i":16,"u":0.78,"h":708,"v":582},{"i":16,"u":0.78,"h":660,"v":520},
{"i":17,"u":0.2,"h":450,"v":580},{"i":17,"u":0.2,"h":570,"v":510},{"i":17,"u":0.2,"h":610,"v":610},{"i":17,"u":0.2,"h":540,"v":660},
{"i":18,"u":0.45,"h":570,"v":510},{"i":18,"u":0.45,"h":660,"v":520},{"i":18,"u":0.45,"h":660,"v":590},{"i":18,"u":0.45,"h":610,"v":610},
{"i":19,"u":0.68,"h":660,"v":520},{"i":19,"u":0.68,"h":708,"v":582},{"i":19,"u":0.68,"h":660,"v":590},
{"i":20,"u":0.5,"h":500,"v":665},{"i":20,"u":0.5,"h":540,"v":660},{"i":20,"u":0.5,"h":570,"v":640},{"i":20,"u":0.5,"h":525,"v":700},
{"i":21,"u":0.06,"h":672,"v":1055},{"i":21,"u":0.06,"h":708,"v":582},{"i":21,"u":0.06,"h":680,"v":588},
{"i":22,"u":0.11,"h":672,"v":1055},{"i":22,"u":0.11,"h":680,"v":588},{"i":22,"u":0.11,"h":650,"v":595},
{"i":23,"u":0.17,"h":672,"v":1055},{"i":23,"u":0.17,"h":650,"v":595},{"i":23,"u":0.17,"h":620,"v":605},
{"i":24,"u":0.24,"h":672,"v":1055},{"i":24,"u":0.24,"h":620,"v":605},{"i":24,"u":0.24,"h":595,"v":620},
{"i":25,"u":0.31,"h":672,"v":1055},{"i":25,"u":0.31,"h":595,"v":620},{"i":25,"u":0.31,"h":570,"v":640},
{"i":26,"u":0.38,"h":672,"v":1055},{"i":26,"u":0.38,"h":570,"v":640},{"i":26,"u":0.38,"h":545,"v":660},
{"i":27,"u":0.46,"h":672,"v":1055},{"i":27,"u":0.46,"h":545,"v":660},{"i":27,"u":0.46,"h":515,"v":700},
{"i":28,"u":0.62,"h":155,"v":435},{"i":28,"u":0.62,"h":170,"v":520},{"i":28,"u":0.62,"h":200,"v":510},
{"i":29,"u":0.55,"h":170,"v":520},{"i":29,"u":0.55,"h":200,"v":510},{"i":29,"u":0.55,"h":240,"v":590},{"i":29,"u":0.55,"h":190,"v":630},
{"i":30,"u":0.45,"h":190,"v":630},{"i":30,"u":0.45,"h":240,"v":590},{"i":30,"u":0.45,"h":280,"v":670},{"i":30,"u":0.45,"h":230,"v":720},
{"i":31,"u":0.33,"h":230,"v":720},{"i":31,"u":0.33,"h":280,"v":670},{"i":31,"u":0.33,"h":320,"v":745},{"i":31,"u":0.33,"h":275,"v":810},
{"i":32,"u":0.9,"h":120,"v":268},{"i":32,"u":0.9,"h":200,"v":325},{"i":32,"u":0.9,"h":155,"v":435},
{"i":33,"u":0.88,"h":200,"v":325},{"i":33,"u":0.88,"h":300,"v":400},{"i":33,"u":0.88,"h":240,"v":590},{"i":33,"u":0.88,"h":155,"v":435},
{"i":34,"u":0.87,"h":300,"v":400},{"i":34,"u":0.87,"h":350,"v":455},{"i":34,"u":0.87,"h":320,"v":745},{"i":34,"u":0.87,"h":240,"v":590},
{"i":35,"u":0.85,"h":350,"v":455},{"i":35,"u":0.85,"h":400,"v":510},{"i":35,"u":0.85,"h":350,"v":820},{"i":35,"u":0.85,"h":320,"v":745},
{"i":36,"u":0.82,"h":400,"v":510},{"i":36,"u":0.82,"h":440,"v":565},{"i":36,"u":0.82,"h":375,"v":885},{"i":36,"u":0.82,"h":350,"v":820},
{"i":37,"u":0.76,"h":440,"v":565},{"i":37,"u":0.76,"h":480,"v":630},{"i":37,"u":0.76,"h":375,"v":885},
{"i":38,"u":0.66,"h":480,"v":630},{"i":38,"u":0.66,"h":520,"v":695},{"i":38,"u":0.66,"h":375,"v":885}],
"m3":[
{"i":1,"h":385,"v":265},{"i":1,"h":480,"v":270},{"i":1,"h":620,"v":345},{"i":1,"h":790,"v":490},
{"i":2,"h":340,"v":322},{"i":2,"h":440,"v":305},{"i":2,"h":600,"v":360},{"i":2,"h":770,"v":495},
{"i":3,"h":315,"v":370},{"i":3,"h":420,"v":360},{"i":3,"h":560,"v":405},{"i":3,"h":745,"v":515},
{"i":4,"h":360,"v":440},{"i":4,"h":470,"v":395},{"i":4,"h":600,"v":440},{"i":4,"h":735,"v":530},
{"i":5,"h":395,"v":510},{"i":5,"h":520,"v":450},{"i":5,"h":640,"v":480},{"i":5,"h":722,"v":555},
{"i":6,"h":450,"v":580},{"i":6,"h":570,"v":510},{"i":6,"h":660,"v":520},{"i":6,"h":708,"v":582},
{"i":7,"h":540,"v":660},{"i":7,"h":610,"v":610},{"i":7,"h":660,"v":590},{"i":7,"h":708,"v":582},
{"i":8,"h":841,"v":50},{"i":8,"h":385,"v":265},{"i":8,"h":305,"v":400},
{"i":9,"h":869,"v":63},{"i":9,"h":405,"v":265},{"i":9,"h":325,"v":428},
{"i":10,"h":896,"v":76},{"i":10,"h":425,"v":265},{"i":10,"h":345,"v":455},
{"i":11,"h":924,"v":88},{"i":11,"h":448,"v":267},{"i":11,"h":368,"v":480},
{"i":12,"h":952,"v":101},{"i":12,"h":470,"v":268},{"i":12,"h":390,"v":505},
{"i":13,"h":980,"v":114},{"i":13,"h":500,"v":282},{"i":13,"h":410,"v":530},
{"i":14,"h":1007,"v":127},{"i":14,"h":530,"v":295},{"i":14,"h":430,"v":555},
{"i":15,"h":1035,"v":139},{"i":15,"h":560,"v":312},{"i":15,"h":450,"v":578},
{"i":16,"h":1063,"v":152},{"i":16,"h":590,"v":328},{"i":16,"h":470,"v":600},
{"i":17,"h":1090,"v":165},{"i":17,"h":615,"v":345},{"i":17,"h":490,"v":620},
{"i":18,"h":1118,"v":178},{"i":18,"h":640,"v":362},{"i":18,"h":510,"v":640},
{"i":19,"h":1146,"v":190},{"i":19,"h":660,"v":378},{"i":19,"h":528,"v":651},
{"i":20,"h":1173,"v":203},{"i":20,"h":680,"v":394},{"i":20,"h":545,"v":662},
{"i":21,"h":1201,"v":216},{"i":21,"h":698,"v":410},{"i":21,"h":568,"v":646},
{"i":22,"h":1229,"v":229},{"i":22,"h":715,"v":425},{"i":22,"h":590,"v":630},
{"i":23,"h":1256,"v":241},{"i":23,"h":730,"v":438},{"i":23,"h":610,"v":620},
{"i":24,"h":1284,"v":254},{"i":24,"h":745,"v":452},{"i":24,"h":630,"v":610},
{"i":25,"h":1312,"v":267},{"i":25,"h":758,"v":463},{"i":25,"h":650,"v":602},
{"i":26,"h":1339,"v":280},{"i":26,"h":770,"v":473},{"i":26,"h":670,"v":595},
{"i":27,"h":1367,"v":292},{"i":27,"h":780,"v":482},{"i":27,"h":689,"v":588},
{"i":28,"h":1395,"v":305},{"i":28,"h":1100,"v":400},{"i":28,"h":850,"v":465},{"i":28,"h":790,"v":490},{"i":28,"h":745,"v":515},{"i":28,"h":722,"v":555},{"i":28,"h":708,"v":582},{"i":28,"h":672,"v":1055},{"i":28,"h":515,"v":700}],
"r3":[{"h":841,"v":50,"c":1395,"d":305},{"h":805,"v":60,"c":1362,"d":315},{"h":770,"v":70,"c":1330,"d":325},{"h":735,"v":81,"c":1297,"d":335},{"h":700,"v":92,"c":1265,"d":345},{"h":670,"v":101,"c":1232,"d":353},{"h":640,"v":110,"c":1200,"d":362},{"h":615,"v":119,"c":1167,"d":372},{"h":590,"v":128,"c":1135,"d":382},{"h":565,"v":139,"c":1102,"d":391},{"h":540,"v":150,"c":1070,"d":400},{"h":520,"v":160,"c":1035,"d":409},{"h":500,"v":170,"c":1000,"d":418},{"h":480,"v":181,"c":965,"d":428},{"h":460,"v":192,"c":930,"d":438},{"h":445,"v":202,"c":900,"d":448},{"h":430,"v":212,"c":870,"d":458},{"h":420,"v":222,"c":830,"d":474},
{"h":855,"v":56,"c":395,"d":265},{"h":882,"v":69,"c":415,"d":265},{"h":910,"v":82,"c":436,"d":266},{"h":938,"v":95,"c":459,"d":267},{"h":966,"v":107,"c":485,"d":275},{"h":993,"v":120,"c":515,"d":288},{"h":1021,"v":133,"c":545,"d":303},{"h":1049,"v":146,"c":575,"d":320},{"h":1076,"v":158,"c":602,"d":336},{"h":1104,"v":171,"c":627,"d":353},{"h":1132,"v":184,"c":650,"d":370},{"h":1159,"v":197,"c":670,"d":386},{"h":1187,"v":209,"c":689,"d":402},{"h":1215,"v":222,"c":706,"d":417},{"h":1242,"v":235,"c":722,"d":431},{"h":1270,"v":248,"c":737,"d":445},{"h":1298,"v":260,"c":751,"d":457},{"h":1325,"v":273,"c":764,"d":468},{"h":1353,"v":286,"c":775,"d":477},{"h":1381,"v":298,"c":785,"d":486},
{"h":672,"v":1055,"c":680,"d":588},{"h":672,"v":1055,"c":650,"d":595},{"h":672,"v":1055,"c":620,"d":605},{"h":672,"v":1055,"c":595,"d":620},{"h":672,"v":1055,"c":570,"d":640},{"h":672,"v":1055,"c":545,"d":660},{"h":672,"v":1055,"c":525,"d":675},{"h":672,"v":1055,"c":694,"d":585},{"h":672,"v":1055,"c":665,"d":591},{"h":672,"v":1055,"c":635,"d":600},{"h":672,"v":1055,"c":607,"d":612},{"h":672,"v":1055,"c":582,"d":630},{"h":672,"v":1055,"c":557,"d":650},{"h":672,"v":1055,"c":535,"d":667},
{"h":175,"v":470,"c":215,"d":680},{"h":195,"v":500,"c":240,"d":740},{"h":220,"v":550,"c":260,"d":790},{"h":240,"v":590,"c":275,"d":800},{"h":265,"v":640,"c":280,"d":800},{"h":290,"v":690,"c":285,"d":800},{"h":155,"v":435,"c":275,"d":810},
{"h":137,"v":281,"c":125,"d":292},{"h":154,"v":293,"c":130,"d":316},{"h":170,"v":305,"c":135,"d":340},{"h":187,"v":317,"c":140,"d":364},{"h":204,"v":328,"c":145,"d":388},{"h":220,"v":340,"c":150,"d":412},{"h":237,"v":352,"c":155,"d":435},{"h":254,"v":364,"c":170,"d":463},{"h":270,"v":377,"c":185,"d":490},{"h":287,"v":390,"c":200,"d":517},{"h":304,"v":403,"c":225,"d":562},{"h":321,"v":421,"c":255,"d":617},{"h":338,"v":441,"c":285,"d":675},{"h":355,"v":461,"c":315,"d":735},{"h":372,"v":480,"c":330,"d":772},{"h":389,"v":498,"c":345,"d":808},{"h":406,"v":517,"c":360,"d":845},{"h":423,"v":540,"c":375,"d":885},{"h":440,"v":565,"c":375,"d":885},{"h":457,"v":592,"c":375,"d":885},{"h":474,"v":620,"c":375,"d":885},{"h":490,"v":647,"c":375,"d":885},{"h":505,"v":672,"c":375,"d":885},{"h":120,"v":268,"c":375,"d":885},{"h":120,"v":268,"c":520,"d":695},{"h":520,"v":695,"c":375,"d":885},{"h":120,"v":268,"c":155,"d":435},{"h":155,"v":435,"c":320,"d":745}],
"iv":[
{"t":0,"y":3.05,"s":"δ=1"},{"t":0.1,"y":2.68,"s":"δ=1"},{"t":0.2,"y":2.22,"s":"δ=1"},{"t":0.3,"y":1.6,"s":"δ=1"},{"t":0.4,"y":0.9,"s":"δ=1"},{"t":0.5,"y":0.16,"s":"δ=1"},{"t":0.6,"y":0.6,"s":"δ=1"},{"t":0.7,"y":1.35,"s":"δ=1"},{"t":0.8,"y":1.97,"s":"δ=1"},{"t":0.9,"y":2.5,"s":"δ=1"},{"t":1,"y":2.92,"s":"δ=1"},{"t":1.1,"y":3.23,"s":"δ=1"},{"t":1.2,"y":3.45,"s":"δ=1"},{"t":1.3,"y":3.62,"s":"δ=1"},{"t":1.4,"y":3.74,"s":"δ=1"},{"t":1.5,"y":3.82,"s":"δ=1"},{"t":1.6,"y":3.88,"s":"δ=1"},{"t":1.7,"y":3.92,"s":"δ=1"},{"t":1.8,"y":3.95,"s":"δ=1"},{"t":1.9,"y":3.96,"s":"δ=1"},{"t":2,"y":3.97,"s":"δ=1"},
{"t":0,"y":3.03,"s":"δ=0.7"},{"t":0.1,"y":1.75,"s":"δ=0.7"},{"t":0.2,"y":0.45,"s":"δ=0.7"},{"t":0.3,"y":0.72,"s":"δ=0.7"},{"t":0.4,"y":1.65,"s":"δ=0.7"},{"t":0.5,"y":2.4,"s":"δ=0.7"},{"t":0.6,"y":2.92,"s":"δ=0.7"},{"t":0.7,"y":3.25,"s":"δ=0.7"},{"t":0.8,"y":3.5,"s":"δ=0.7"},{"t":0.9,"y":3.66,"s":"δ=0.7"},{"t":1,"y":3.77,"s":"δ=0.7"},{"t":1.1,"y":3.84,"s":"δ=0.7"},{"t":1.2,"y":3.89,"s":"δ=0.7"},{"t":1.3,"y":3.92,"s":"δ=0.7"},{"t":1.4,"y":3.94,"s":"δ=0.7"},{"t":1.5,"y":3.96,"s":"δ=0.7"},{"t":1.6,"y":3.97,"s":"δ=0.7"},{"t":1.7,"y":3.97,"s":"δ=0.7"},{"t":1.8,"y":3.98,"s":"δ=0.7"},{"t":1.9,"y":3.98,"s":"δ=0.7"},{"t":2,"y":3.98,"s":"δ=0.7"},
{"t":0,"y":3.05,"s":"δ=0.5"},{"t":0.1,"y":0.85,"s":"δ=0.5"},{"t":0.2,"y":2.47,"s":"δ=0.5"},{"t":0.3,"y":3.21,"s":"δ=0.5"},{"t":0.4,"y":3.57,"s":"δ=0.5"},{"t":0.5,"y":3.75,"s":"δ=0.5"},{"t":0.6,"y":3.85,"s":"δ=0.5"},{"t":0.7,"y":3.9,"s":"δ=0.5"},{"t":0.8,"y":3.94,"s":"δ=0.5"},{"t":0.9,"y":3.96,"s":"δ=0.5"},{"t":1,"y":3.98,"s":"δ=0.5"},{"t":1.1,"y":3.99,"s":"δ=0.5"},{"t":1.2,"y":3.99,"s":"δ=0.5"},{"t":1.3,"y":3.995,"s":"δ=0.5"},{"t":1.4,"y":4,"s":"δ=0.5"},{"t":1.5,"y":4,"s":"δ=0.5"},{"t":1.6,"y":4,"s":"δ=0.5"},{"t":1.7,"y":4,"s":"δ=0.5"},{"t":1.8,"y":4,"s":"δ=0.5"},{"t":1.9,"y":4,"s":"δ=0.5"},{"t":2,"y":4,"s":"δ=0.5"}]
},
"spacing":0,"resolve":{"scale":{"color":"independent"}},
"vconcat":[
{"spacing":0,"resolve":{"scale":{"color":"independent"}},"hconcat":[
{"width":560,"height":450,"resolve":{"scale":{"x":"independent","y":"independent"}},"layer":[
{"encoding":{"x":{"field":"h","type":"quantitative","axis":null,"scale":{"domain":[0,1680]}},"y":{"field":"v","type":"quantitative","axis":null,"scale":{"domain":[1350,0]}}},"layer":[
{"data":{"name":"box"},"mark":{"type":"rule","strokeWidth":1},"encoding":{"x2":{"field":"c"},"y2":{"field":"d"},"color":{"field":"k","type":"nominal","legend":null,"scale":{"domain":["g","a"],"range":["#e2e2e2","#4a4a4a"]}}}},
{"data":{"name":"h4"},"mark":{"type":"rule","strokeWidth":1},"encoding":{"x2":{"field":"c"},"y2":{"field":"d"},"color":{"field":"k","type":"nominal","legend":null,"scale":{"domain":["g","a"],"range":["#e2e2e2","#4a4a4a"]}}}},
{"data":{"name":"lc"},"mark":{"type":"text","fontSize":12.5,"color":"#505050"},"encoding":{"text":{"field":"s"}}},
{"data":{"name":"l4"},"mark":{"type":"text","fontSize":12.5,"color":"#505050"},"encoding":{"text":{"field":"s"}}},
{"data":{"name":"tt"},"mark":{"type":"text","fontSize":14,"color":"#505050"},"encoding":{"text":{"field":"s"}}},
{"data":{"values":[{"s":"Solution","h":27,"v":478}]},"mark":{"type":"text","fontSize":14,"color":"#505050","angle":270},"encoding":{"text":{"field":"s"}}},
{"data":{"values":[{"s":"(i) δ = 1","h":728,"v":1235}]},"mark":{"type":"text","fontSize":30,"font":"Liberation Serif","color":"#111111"},"encoding":{"text":{"field":"s"}}}
]},
{"encoding":{"x":{"field":"h","type":"quantitative","axis":null,"scale":{"domain":[0,1680]}},"y":{"field":"v","type":"quantitative","axis":null,"scale":{"domain":[1350,0]}}},"layer":[
{"data":{"name":"p1"},"transform":[{"window":[{"op":"row_number","as":"k"}]}],"mark":{"type":"line","strokeWidth":0.5},"encoding":{"order":{"field":"k","type":"quantitative"},"detail":{"field":"i"},"fill":{"field":"u","type":"quantitative","legend":null,"scale":{"domain":[0,0.125,0.25,0.375,0.5,0.625,0.75,0.875,1],"range":["#00007f","#0000ff","#007fff","#00ffff","#7fff7f","#ffff00","#ff7f00","#ff0000","#7f0000"]}},"stroke":{"field":"u","type":"quantitative","legend":null,"scale":{"domain":[0,0.125,0.25,0.375,0.5,0.625,0.75,0.875,1],"range":["#00007f","#0000ff","#007fff","#00ffff","#7fff7f","#ffff00","#ff7f00","#ff0000","#7f0000"]}}}},
{"data":{"name":"b1"},"transform":[{"window":[{"op":"row_number","as":"k"}]}],"mark":{"type":"line","fill":"black","stroke":"black","strokeWidth":0.5},"encoding":{"order":{"field":"k","type":"quantitative"},"detail":{"field":"i"}}},
{"data":{"name":"m1"},"transform":[{"window":[{"op":"row_number","as":"k"}]}],"mark":{"type":"line","stroke":"black","strokeWidth":0.8},"encoding":{"order":{"field":"k","type":"quantitative"},"detail":{"field":"i"}}}
]}
]},
{"width":512,"height":450,"resolve":{"scale":{"x":"independent","y":"independent"}},"layer":[
{"encoding":{"x":{"field":"h","type":"quantitative","axis":null,"scale":{"domain":[-85,1451]}},"y":{"field":"v","type":"quantitative","axis":null,"scale":{"domain":[1350,0]}}},"layer":[
{"data":{"name":"box"},"mark":{"type":"rule","strokeWidth":1},"encoding":{"x2":{"field":"c"},"y2":{"field":"d"},"color":{"field":"k","type":"nominal","legend":null,"scale":{"domain":["g","a"],"range":["#e2e2e2","#4a4a4a"]}}}},
{"data":{"name":"h5"},"mark":{"type":"rule","strokeWidth":1},"encoding":{"x2":{"field":"c"},"y2":{"field":"d"},"color":{"field":"k","type":"nominal","legend":null,"scale":{"domain":["g","a"],"range":["#e2e2e2","#4a4a4a"]}}}},
{"data":{"name":"lc"},"mark":{"type":"text","fontSize":12.5,"color":"#505050"},"encoding":{"text":{"field":"s"}}},
{"data":{"name":"l5"},"mark":{"type":"text","fontSize":12.5,"color":"#505050"},"encoding":{"text":{"field":"s"}}},
{"data":{"name":"tt"},"mark":{"type":"text","fontSize":14,"color":"#505050"},"encoding":{"text":{"field":"s"}}},
{"data":{"values":[{"s":"Solution","h":-12,"v":478}]},"mark":{"type":"text","fontSize":14,"color":"#505050","angle":270},"encoding":{"text":{"field":"s"}}},
{"data":{"values":[{"s":"(ii) δ = 0.7","h":730,"v":1235}]},"mark":{"type":"text","fontSize":30,"font":"Liberation Serif","color":"#111111"},"encoding":{"text":{"field":"s"}}}
]},
{"encoding":{"x":{"field":"h","type":"quantitative","axis":null,"scale":{"domain":[0,1536]}},"y":{"field":"v","type":"quantitative","axis":null,"scale":{"domain":[1350,0]}}},"layer":[
{"data":{"name":"p2"},"transform":[{"window":[{"op":"row_number","as":"k"}]}],"mark":{"type":"line","strokeWidth":0.5},"encoding":{"order":{"field":"k","type":"quantitative"},"detail":{"field":"i"},"fill":{"field":"u","type":"quantitative","legend":null,"scale":{"domain":[0,0.125,0.25,0.375,0.5,0.625,0.75,0.875,1],"range":["#00007f","#0000ff","#007fff","#00ffff","#7fff7f","#ffff00","#ff7f00","#ff0000","#7f0000"]}},"stroke":{"field":"u","type":"quantitative","legend":null,"scale":{"domain":[0,0.125,0.25,0.375,0.5,0.625,0.75,0.875,1],"range":["#00007f","#0000ff","#007fff","#00ffff","#7fff7f","#ffff00","#ff7f00","#ff0000","#7f0000"]}}}},
{"data":{"name":"b2"},"transform":[{"window":[{"op":"row_number","as":"k"}]}],"mark":{"type":"line","fill":"black","stroke":"black","strokeWidth":0.5,"opacity":0.8},"encoding":{"order":{"field":"k","type":"quantitative"},"detail":{"field":"i"}}},
{"data":{"name":"r2a"},"mark":{"type":"rule","stroke":"black","strokeWidth":0.8},"encoding":{"x2":{"field":"c"},"y2":{"field":"d"}}},
{"data":{"name":"r2"},"mark":{"type":"rule","stroke":"black","strokeWidth":0.8},"encoding":{"x2":{"field":"c"},"y2":{"field":"d"}}},
{"data":{"name":"m2"},"transform":[{"window":[{"op":"row_number","as":"k"}]}],"mark":{"type":"line","stroke":"black","strokeWidth":0.8},"encoding":{"order":{"field":"k","type":"quantitative"},"detail":{"field":"i"}}}
]}
]}
]},
{"spacing":14,"resolve":{"scale":{"color":"independent"}},"hconcat":[
{"width":570,"height":447,"resolve":{"scale":{"x":"independent","y":"independent"}},"layer":[
{"encoding":{"x":{"field":"h","type":"quantitative","axis":null,"scale":{"domain":[0,1710]}},"y":{"field":"v","type":"quantitative","axis":null,"scale":{"domain":[1295,-46]}}},"layer":[
{"data":{"name":"box"},"mark":{"type":"rule","strokeWidth":1},"encoding":{"x2":{"field":"c"},"y2":{"field":"d"},"color":{"field":"k","type":"nominal","legend":null,"scale":{"domain":["g","a"],"range":["#e2e2e2","#4a4a4a"]}}}},
{"data":{"name":"h4"},"mark":{"type":"rule","strokeWidth":1},"encoding":{"x2":{"field":"c"},"y2":{"field":"d"},"color":{"field":"k","type":"nominal","legend":null,"scale":{"domain":["g","a"],"range":["#e2e2e2","#4a4a4a"]}}}},
{"data":{"name":"lc"},"mark":{"type":"text","fontSize":12.5,"color":"#505050"},"encoding":{"text":{"field":"s"}}},
{"data":{"name":"l4"},"mark":{"type":"text","fontSize":12.5,"color":"#505050"},"encoding":{"text":{"field":"s"}}},
{"data":{"name":"tt"},"mark":{"type":"text","fontSize":14,"color":"#505050"},"encoding":{"text":{"field":"s"}}},
{"data":{"values":[{"s":"Solution","h":27,"v":478}]},"mark":{"type":"text","fontSize":14,"color":"#505050","angle":270},"encoding":{"text":{"field":"s"}}},
{"data":{"values":[{"s":"(iii) δ = 0.5","h":730,"v":1234}]},"mark":{"type":"text","fontSize":30,"font":"Liberation Serif","color":"#111111"},"encoding":{"text":{"field":"s"}}}
]},
{"encoding":{"x":{"field":"h","type":"quantitative","axis":null,"scale":{"domain":[0,1710]}},"y":{"field":"v","type":"quantitative","axis":null,"scale":{"domain":[1341,0]}}},"layer":[
{"data":{"name":"p3"},"transform":[{"window":[{"op":"row_number","as":"k"}]}],"mark":{"type":"line","strokeWidth":0.5},"encoding":{"order":{"field":"k","type":"quantitative"},"detail":{"field":"i"},"fill":{"field":"u","type":"quantitative","legend":null,"scale":{"domain":[0,0.125,0.25,0.375,0.5,0.625,0.75,0.875,1],"range":["#00007f","#0000ff","#007fff","#00ffff","#7fff7f","#ffff00","#ff7f00","#ff0000","#7f0000"]}},"stroke":{"field":"u","type":"quantitative","legend":null,"scale":{"domain":[0,0.125,0.25,0.375,0.5,0.625,0.75,0.875,1],"range":["#00007f","#0000ff","#007fff","#00ffff","#7fff7f","#ffff00","#ff7f00","#ff0000","#7f0000"]}}}},
{"data":{"name":"m3"},"transform":[{"window":[{"op":"row_number","as":"k"}]}],"mark":{"type":"line","stroke":"black","strokeWidth":0.8},"encoding":{"order":{"field":"k","type":"quantitative"},"detail":{"field":"i"}}},
{"data":{"name":"r3"},"mark":{"type":"rule","stroke":"black","strokeWidth":0.8},"encoding":{"x2":{"field":"c"},"y2":{"field":"d"}}}
]}
]},
{"spacing":0,"bounds":"flush","vconcat":[
{"width":424,"height":17,"data":{"values":[{"a":0}]},"mark":{"type":"point","opacity":0},"encoding":{}},
{"width":424,"height":335,"title":{"text":"(iv) δ = 1, 0.7, 0.5","orient":"bottom","offset":23,"font":"Liberation Serif","fontSize":30,"fontWeight":"normal","color":"#111111","anchor":"middle","dx":-8},"data":{"name":"iv"},
"resolve":{"axis":{"x":"independent","y":"independent"}},
"layer":[
{"mark":{"type":"line","strokeWidth":2.6},"encoding":{"x":{"field":"t","type":"quantitative","scale":{"domain":[0,2]},"axis":{"orient":"bottom","title":"Time \"t\"","titleFont":"Liberation Sans","titleFontWeight":"normal","titleFontSize":14,"titleColor":"#505050","titlePadding":9,"values":[0,0.2,0.4,0.6,0.8,1,1.2,1.4,1.6,1.8,2],"format":"~g","grid":false,"tickSize":-4,"labelPadding":9,"labelFont":"Liberation Sans","labelFontSize":12.5,"labelColor":"#505050","tickColor":"#404040","domainColor":"#404040"}},"y":{"field":"y","type":"quantitative","scale":{"domain":[0,4]},"axis":{"orient":"left","title":"Solution","titleFont":"Liberation Sans","titleFontWeight":"normal","titleFontSize":14,"titleColor":"#505050","titlePadding":4,"values":[0,0.5,1,1.5,2,2.5,3,3.5,4],"format":"~g","grid":false,"tickSize":-4,"labelPadding":9,"labelFont":"Liberation Sans","labelFontSize":12.5,"labelColor":"#505050","tickColor":"#404040","domainColor":"#404040"}},"color":{"field":"s","type":"nominal","scale":{"domain":["δ=1","δ=0.7","δ=0.5"],"range":["#ff0000","#00ff00","#0000ff"]},"legend":{"title":null,"orient":"none","legendX":347,"legendY":279,"symbolType":"M-2.6,0H2.6","symbolSize":225,"symbolStrokeWidth":2.6,"labelFont":"Liberation Sans","labelFontSize":11,"labelColor":"#505050","fillColor":"white","strokeColor":"#222222","padding":3,"rowPadding":1,"labelOffset":26,"encode":{"symbols":{"update":{"x":{"value":21}}}}}}}},
{"mark":{"type":"line","opacity":0},"encoding":{"x":{"field":"t","type":"quantitative","axis":{"orient":"top","title":null,"labels":false,"values":[0,0.2,0.4,0.6,0.8,1,1.2,1.4,1.6,1.8,2],"grid":false,"tickSize":-4,"tickColor":"#404040","domainColor":"#404040"}},"y":{"field":"y","type":"quantitative","axis":{"orient":"right","title":null,"labels":false,"values":[0,0.5,1,1.5,2,2.5,3,3.5,4],"grid":false,"tickSize":-4,"tickColor":"#404040","domainColor":"#404040"}},"detail":{"field":"s"}}}
]}
]}
]}
]}
